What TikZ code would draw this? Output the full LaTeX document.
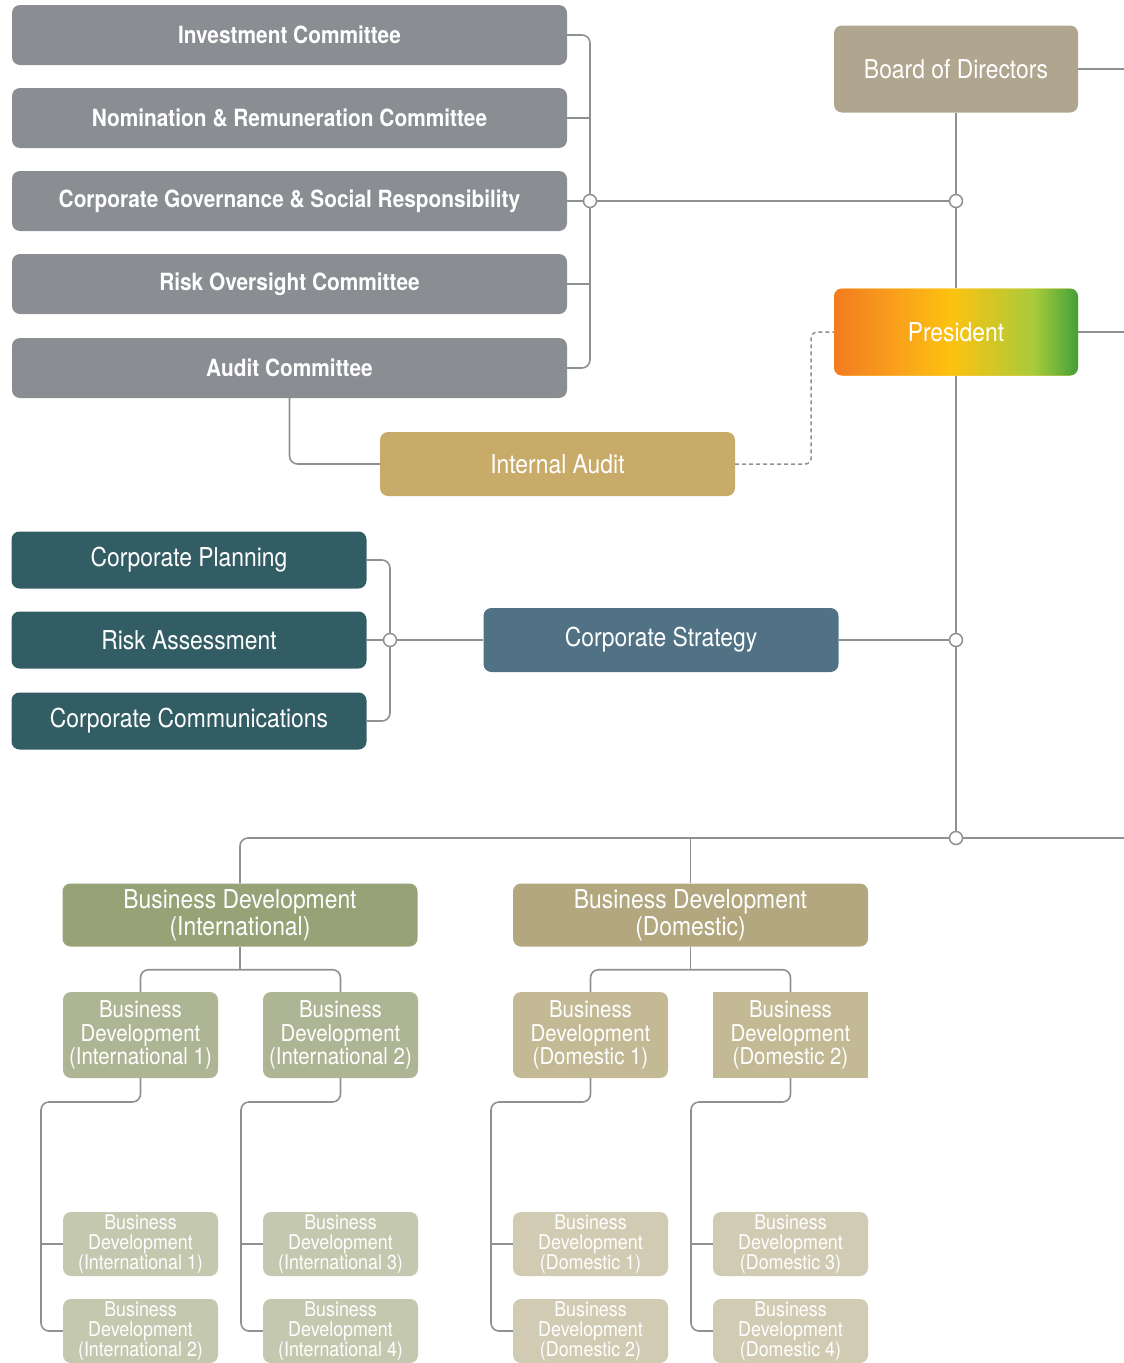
\documentclass[tikz,border=0pt]{standalone}
\usepackage{fontspec}
\setmainfont{TeX Gyre Heros}[FakeStretch=0.88]
\usepackage{xcolor}
\usepackage{tikz}
\usetikzlibrary{positioning, calc}

\definecolor{linegrey}{HTML}{8E9094}
\definecolor{cmtgrey}{HTML}{8A8D91}
\definecolor{boardtan}{HTML}{B0A58E}
\definecolor{audittan}{HTML}{C8AB69}
\definecolor{teal}{HTML}{335D64}
\definecolor{stratblue}{HTML}{517284}
\definecolor{intgreen}{HTML}{97A277}
\definecolor{domtan}{HTML}{B3A77F}
\definecolor{intsub}{HTML}{ADB594}
\definecolor{domsub}{HTML}{C3B995}
\definecolor{intleaf}{HTML}{C3C8AF}
\definecolor{domleaf}{HTML}{D2CBB3}
\definecolor{gradA}{HTML}{F37B20}
\definecolor{gradB}{HTML}{F9A11B}
\definecolor{gradC}{HTML}{FDC210}
\definecolor{gradD}{HTML}{A8CB3B}
\definecolor{gradE}{HTML}{43A03A}
% the node box maps onto 25bp..75bp of the shading
\pgfdeclarehorizontalshading{presgrad}{100bp}{color(0bp)=(gradA); color(25bp)=(gradA); color(38bp)=(gradB); color(49bp)=(gradC); color(66bp)=(gradD); color(75bp)=(gradE); color(100bp)=(gradE)}

\tikzset{
  % boxes
  box/.style={rectangle, rounded corners=8pt, inner sep=0pt, text=white, align=center, fill=#1},
  box/.default={cmtgrey},
  committee/.style={box=cmtgrey, minimum width=555pt, minimum height=60pt, font=\fontsize{23.7}{26}\selectfont\bfseries},
  topbox/.style={box=#1, minimum width=244pt, minimum height=87pt, font=\fontsize{26}{28}\selectfont},
  unit/.style={box=#1, minimum width=355pt, minimum height=57pt, font=\fontsize{26}{28}\selectfont},
  division/.style={box=#1, minimum width=355pt, minimum height=63pt, font=\fontsize{26}{27}\selectfont},
  subunit/.style={box=#1, minimum width=155pt, minimum height=86pt, font=\fontsize{23.2}{23.5}\selectfont},
  leaf/.style={box=#1, minimum width=155pt, minimum height=64pt, font=\fontsize{20.3}{20}\selectfont},
  % connectors
  conn/.style={draw=linegrey, line width=1.6pt},
  dot/.style={circle, draw=linegrey, fill=white, line width=1.5pt, inner sep=0pt, minimum size=13pt},
}

\begin{document}
\begin{tikzpicture}[x=1pt, y=-1pt]
    \useasboundingbox (0,0) rectangle (1124,1363);
    \coordinate (edge) at (1124,0);

    % Committees
    \node[committee] (ic)  at (289.5,35)  {Investment Committee};
    \node[committee] (nrc) at (289.5,118) {Nomination \& Remuneration Committee};
    \node[committee] (cgs) at (289.5,201) {Corporate Governance \& Social Responsibility};
    \node[committee] (roc) at (289.5,284) {Risk Oversight Committee};
    \node[committee] (ac)  at (289.5,368) {Audit Committee};
    \coordinate (gbus) at (590,201);

    % Top management
    \node[topbox=boardtan] (bod) at (956,69) {Board of Directors};
    \node[topbox=gradC, shading=presgrad] (pres) at (956,332) {President};
    \coordinate (bodj) at (956,201);

    % Internal audit
    \node[unit=audittan, minimum height=64pt] (ia) at (557.5,464) {Internal Audit};

    % Corporate strategy
    \node[unit=teal] (cp) at (189,560) {Corporate Planning};
    \node[unit=teal] (ra) at (189,640) {Risk Assessment};
    \node[unit=teal] (cc) at (189,721) {Corporate Communications};
    \node[unit=stratblue, minimum height=64pt] (cs) at (661,640) {Corporate Strategy};
    \coordinate (sbus) at (390,640);
    \coordinate (csj) at (956,640);

    % Business development
    \coordinate (bdbus) at (956,838);
    \node[division=intgreen] (bdi) at (240,915) {Business Development\\(International)};
    \node[division=domtan] (bdd) at (690.5,915) {Business Development\\(Domestic)};

    \node[subunit=intsub] (bi1) at (140.5,1035) {Business\\Development\\(International 1)};
    \node[subunit=intsub] (bi2) at (340.5,1035) {Business\\Development\\(International 2)};
    \node[subunit=domsub] (bd1) at (590.5,1035) {Business\\Development\\(Domestic 1)};
    \node[subunit=domsub, sharp corners] (bd2) at (790.5,1035) {Business\\Development\\(Domestic 2)};

    \node[leaf=intleaf] (li1) at (140.5,1244) {Business\\Development\\(International 1)};
    \node[leaf=intleaf] (li2) at (140.5,1331) {Business\\Development\\(International 2)};
    \node[leaf=intleaf] (li3) at (340.5,1244) {Business\\Development\\(International 3)};
    \node[leaf=intleaf] (li4) at (340.5,1331) {Business\\Development\\(International 4)};
    \node[leaf=domleaf] (ld1) at (590.5,1244) {Business\\Development\\(Domestic 1)};
    \node[leaf=domleaf] (ld2) at (590.5,1331) {Business\\Development\\(Domestic 2)};
    \node[leaf=domleaf] (ld3) at (790.5,1244) {Business\\Development\\(Domestic 3)};
    \node[leaf=domleaf] (ld4) at (790.5,1331) {Business\\Development\\(Domestic 4)};

    \coordinate (t1) at (41,1102);
    \coordinate (t2) at (241,1102);
    \coordinate (t3) at (491,1102);
    \coordinate (t4) at (691,1102);

    % Connectors: committees
    \draw[conn, rounded corners=8pt] (ic.east) -| (gbus) |- (ac.east);
    \draw[conn] (nrc.east) -- (nrc.east -| gbus);
    \draw[conn] (cgs.east) -- (gbus);
    \draw[conn] (roc.east) -- (roc.east -| gbus);
    \draw[conn] (gbus) -- (bodj);

    % Connectors: board and president
    \draw[conn] (bod.south) -- (pres.north);
    \draw[conn] (pres.south) -- (bdbus);
    \draw[conn] (bod.east) -- (bod.east -| edge);
    \draw[conn] (pres.east) -- (pres.east -| edge);

    % Connectors: internal audit
    \draw[conn, rounded corners=8pt] (ac.south) |- (ia.west);
    \draw[conn, line width=1.5pt, dash pattern=on 4pt off 3pt, rounded corners=6pt] (ia.east) -- ++(76,0) |- (pres.west);

    % Connectors: strategy
    \draw[conn, rounded corners=8pt] (cp.east) -| (sbus) |- (cc.east);
    \draw[conn] (ra.east) -- (cs.west);
    \draw[conn] (cs.east) -- (csj);

    % Connectors: business development
    \draw[conn, rounded corners=8pt] (bdi.north) |- (bdbus);
    \draw[conn] (bdbus) -- (bdbus -| edge);
    \draw[conn] (bdd.north) -- (bdd.north |- bdbus);

    \draw[conn] (bdi.south) -- ++(0,23);
    \draw[conn, rounded corners=8pt] (bi1.north) |- ($(bdi.south)+(0,23)$) -| (bi2.north);
    \draw[conn] (bdd.south) -- ++(0,23);
    \draw[conn, rounded corners=8pt] (bd1.north) |- ($(bdd.south)+(0,23)$) -| (bd2.north);

    \draw[conn, rounded corners=8pt] (bi1.south) |- (t1) |- (li2.west);
    \draw[conn] (li1.west) -- (li1.west -| t1);
    \draw[conn, rounded corners=8pt] (bi2.south) |- (t2) |- (li4.west);
    \draw[conn] (li3.west) -- (li3.west -| t2);
    \draw[conn, rounded corners=8pt] (bd1.south) |- (t3) |- (ld2.west);
    \draw[conn] (ld1.west) -- (ld1.west -| t3);
    \draw[conn, rounded corners=8pt] (bd2.south) |- (t4) |- (ld4.west);
    \draw[conn] (ld3.west) -- (ld3.west -| t4);

    % Junction dots
    \node[dot] at (gbus) {};
    \node[dot] at (bodj) {};
    \node[dot] at (sbus) {};
    \node[dot] at (csj) {};
    \node[dot] at (bdbus) {};
\end{tikzpicture}
\end{document}
